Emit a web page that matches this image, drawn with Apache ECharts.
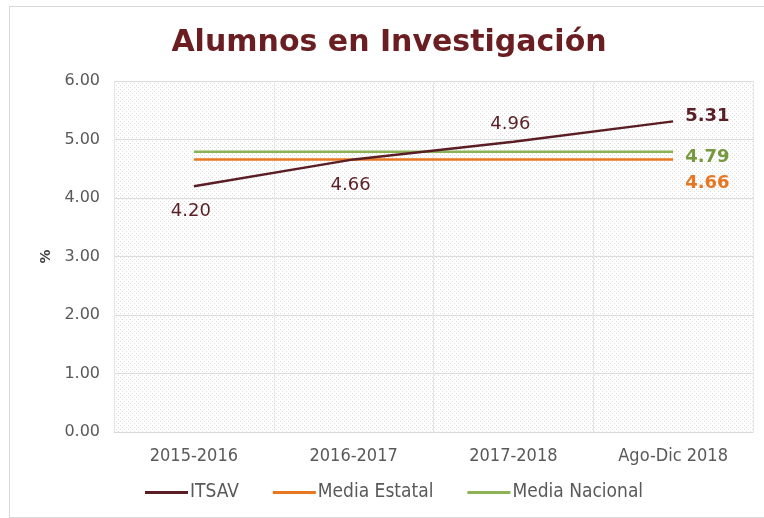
<!DOCTYPE html>
<html>
<head>
<meta charset="utf-8">
<script src="https://cdn.jsdelivr.net/npm/echarts@6/dist/echarts.min.js"></script>
<style>
html,body{margin:0;padding:0;background:#fff;overflow:hidden;}
#chart{position:absolute;left:9px;top:6px;width:760px;height:512px;border:1px solid #d9d9d9;box-sizing:border-box;}
</style>
</head>
<body>
<div id="chart"></div>
<script>
var categories = ['2015-2016', '2016-2017', '2017-2018', 'Ago-Dic 2018'];
var itsav = [4.20, 4.66, 4.96, 5.31];
var mediaEstatal = [4.66, 4.66, 4.66, 4.66];
var mediaNacional = [4.79, 4.79, 4.79, 4.79];
var yTicks = [0, 1, 2, 3, 4, 5, 6];

// patron de puntos para el fondo del area de trazado
function dotPattern(){
	var c = document.createElement('canvas');
	c.width = 4; c.height = 4;
	var ctx = c.getContext('2d');
	ctx.fillStyle = '#ffffff';
	ctx.fillRect(0, 0, 4, 4);
	ctx.fillStyle = '#dddddd';
	ctx.fillRect(0, 0, 1, 1);
	ctx.fillRect(2, 2, 1, 1);
	return c;
}

var font = 'DejaVu Sans Condensed, DejaVu Sans, sans-serif';
var numFont = 'DejaVu Sans, sans-serif';
var itsavPos = ['bottom', 'bottom', 'top', 'right'];
var itsavDist = [16, 17, 9, 12];

function fmt2(p){ return Number(p.value).toFixed(2); }

var itsavData = itsav.map(function(v, i){
	var last = i == itsav.length - 1;
	return {
		value: v,
		label: {
			show: true,
			position: itsavPos[i],
			distance: itsavDist[i],
			offset: last ? [0, -5] : [-3, 0],
			formatter: fmt2,
			fontFamily: numFont,
			fontSize: 18,
			fontWeight: last ? 'bold' : 'normal',
			color: '#5a1e24'
		}
	};
});

function endLabel(arr, color, offsetY){
	return arr.map(function(v, i){
		if(i != arr.length - 1) return v;
		return {
			value: v,
			label: {
				show: true,
				position: 'right',
				distance: 12,
				offset: [0, offsetY],
				formatter: fmt2,
				fontFamily: numFont,
				fontSize: 18,
				fontWeight: 'bold',
				color: color
			}
		};
	});
}

var chart = echarts.init(document.getElementById('chart'));
var option = {
	animation: false,
	title: {
		text: 'Alumnos en Investigación',
		left: 'center',
		top: 16,
		textStyle: {
			fontFamily: numFont,
			fontSize: 30,
			fontWeight: 'bold',
			color: '#6b1e22'
		}
	},
	legend: {
		bottom: 10,
		left: 130,
		icon: 'rect',
		itemWidth: 43,
		itemHeight: 3,
		itemGap: 34,
		textStyle: {fontFamily: font, fontSize: 19, color: '#595959', padding: [0, 0, 0, -3]},
		data: ['ITSAV', 'Media Estatal', 'Media Nacional']
	},
	grid: {
		left: 104,
		right: 15,
		top: 74,
		bottom: 85,
		show: true,
		borderWidth: 0,
		backgroundColor: {image: dotPattern(), repeat: 'repeat'}
	},
	xAxis: {
		type: 'category',
		data: categories,
		boundaryGap: true,
		axisLine: {show: true, lineStyle: {color: '#d9d9d9'}},
		axisTick: {show: false},
		splitLine: {show: true, lineStyle: {color: '#e6e6e6'}},
		axisLabel: {fontFamily: font, fontSize: 18, color: '#595959', margin: 15}
	},
	yAxis: {
		type: 'value',
		min: yTicks[0],
		max: yTicks[yTicks.length - 1],
		interval: 1,
		name: '%',
		nameLocation: 'middle',
		nameGap: 60,
		nameRotate: 90,
		nameTextStyle: {fontFamily: numFont, fontSize: 14, fontWeight: 'bold', color: '#404040'},
		axisLine: {show: false},
		axisTick: {show: false},
		splitLine: {lineStyle: {color: '#dcdcdc'}},
		axisLabel: {
			fontFamily: numFont, fontSize: 16, color: '#595959', margin: 14,
			formatter: function(v){ return v.toFixed(2); }
		}
	},
	series: [
		{
			name: 'ITSAV',
			type: 'line',
			symbol: 'circle',
			symbolSize: 0,
			lineStyle: {color: '#5a1e24', width: 2.5},
			itemStyle: {color: '#5a1e24'},
			data: itsavData,
			z: 5
		},
		{
			name: 'Media Estatal',
			type: 'line',
			symbol: 'circle',
			symbolSize: 0,
			lineStyle: {color: '#e87722', width: 2.5},
			itemStyle: {color: '#e87722'},
			data: endLabel(mediaEstatal, '#e87722', 24)
		},
		{
			name: 'Media Nacional',
			type: 'line',
			symbol: 'circle',
			symbolSize: 0,
			lineStyle: {color: '#8db255', width: 2.5},
			itemStyle: {color: '#8db255'},
			data: endLabel(mediaNacional, '#76983f', 6)
		}
	]
};
chart.setOption(option);
</script>
</body>
</html>
